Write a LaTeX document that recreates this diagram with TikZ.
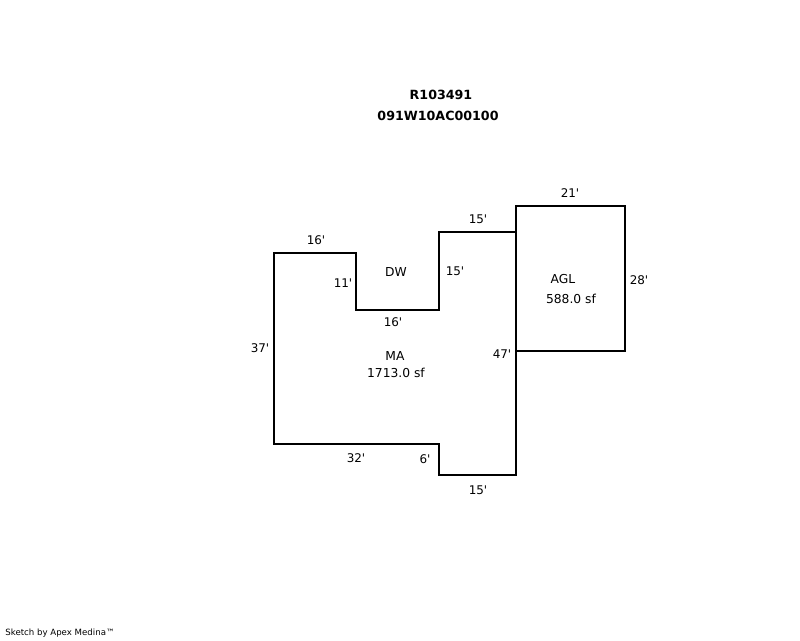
\documentclass[tikz,border=0pt]{standalone}
\usepackage{fontspec}
\setmainfont{DejaVu Sans}
\newcommand{\ft}{\textquotesingle}
\begin{document}
\begin{tikzpicture}[x = 0.02cm, y = -0.02cm]
% Node styles ---
\tikzstyle{dim} = [inner sep = 0pt, font = \fontsize{6.8}{8}\selectfont] % Wall lengths
\tikzstyle{area} = [inner sep = 0pt, font = \fontsize{7}{8}\selectfont] % Area labels
\tikzstyle{ttl} = [inner sep = 0pt, font = \fontsize{7.2}{9}\selectfont\bfseries] % Title lines
\tikzstyle{foot} = [inner sep = 0pt, anchor = west, font = \fontsize{4.9}{6}\selectfont] % Footer
% Edge styles
\tikzstyle{wall} = [draw = black, line width = 1.1pt, line join = miter]
% Begin Figure ---
\useasboundingbox (0,0) rectangle (800,640);
% Walls
\path [wall] (274,253) -- (356,253) -- (356,310) -- (439,310) -- (439,232) -- (516,232) -- (516,475) -- (439,475) -- (439,444) -- (274,444) -- cycle;
\path [wall] (516,206) -- (625,206) -- (625,351) -- (516,351) -- cycle;
% Titles
\node at (441,95) [ttl] (id1) {R103491};
\node at (438,116) [ttl] (id2) {091W10AC00100};
% Areas
\node at (396,272) [area] (dw) {DW};
\node at (395,356) [area] (ma) {MA};
\node at (396,373) [area] (masf) {1713.0 sf};
\node at (563,279) [area] (agl) {AGL};
\node at (571,299) [area] (aglsf) {588.0 sf};
% Lengths
\node at (570,193) [dim] (d1) {21\ft};
\node at (478,219) [dim] (d2) {15\ft};
\node at (316,240) [dim] (d3) {16\ft};
\node at (343,283) [dim] (d4) {11\ft};
\node at (455,271) [dim] (d5) {15\ft};
\node at (639,280) [dim] (d6) {28\ft};
\node at (393,322) [dim] (d7) {16\ft};
\node at (260,348) [dim] (d8) {37\ft};
\node at (502,354) [dim] (d9) {47\ft};
\node at (356,458) [dim] (d10) {32\ft};
\node at (425,459) [dim] (d11) {6\ft};
\node at (478,490) [dim] (d12) {15\ft};
% Footer
\node at (5,633) [foot] (sk) {Sketch by Apex Medina™};
\end{tikzpicture}
\end{document}
